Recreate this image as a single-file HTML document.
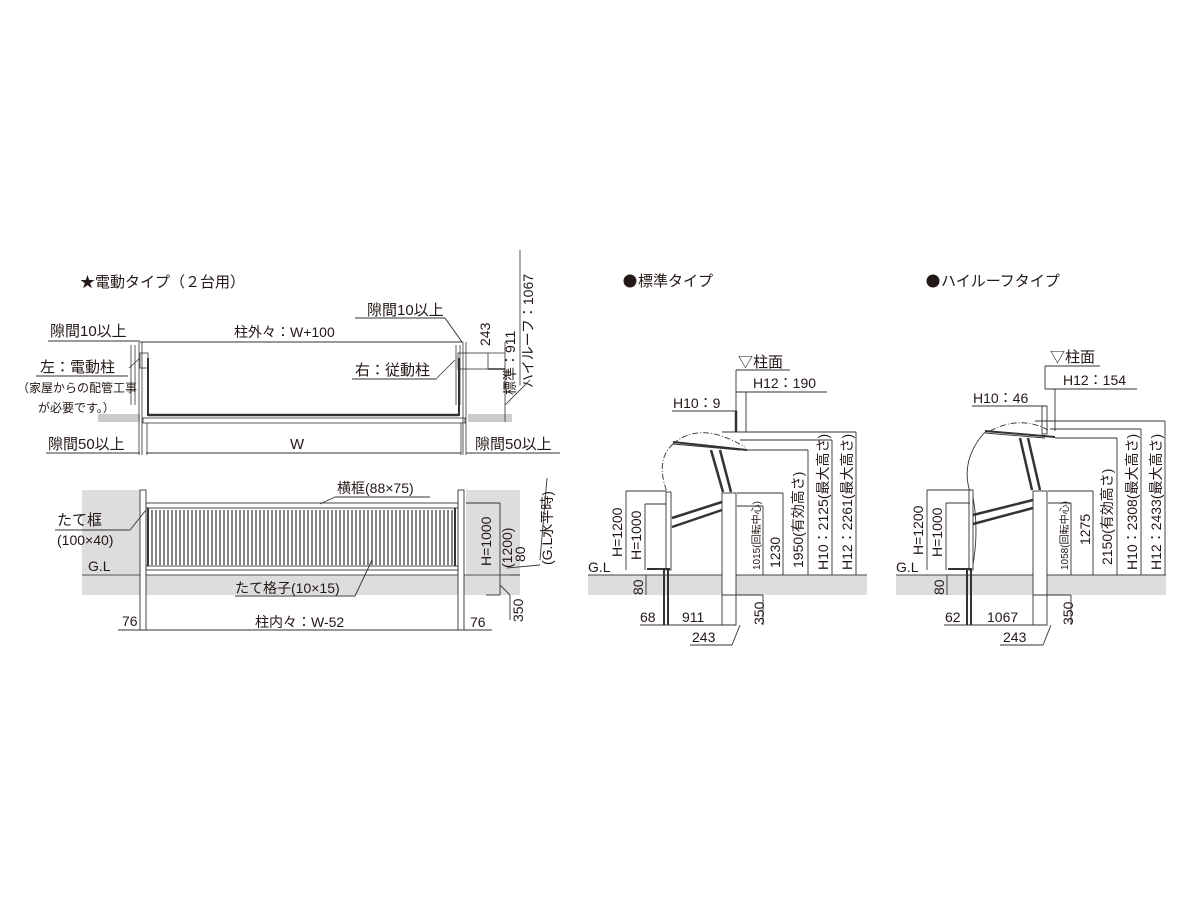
<!DOCTYPE html>
<html><head><meta charset="utf-8"><style>
html,body{margin:0;padding:0;background:#fff}
svg{display:block}
text{font-family:"Liberation Sans","Noto Sans CJK JP",sans-serif;fill:#231815}
</style></head><body>
<svg width="1200" height="900" viewBox="0 0 1200 900" xmlns="http://www.w3.org/2000/svg">
<g font-size="14">
<!-- ===== LEFT PLAN ===== -->
<text x="80" y="287" font-size="15">★電動タイプ（２台用）</text>
<rect x="98" y="414" width="42" height="8" fill="#ccc"/>
<rect x="468" y="414" width="44" height="8" fill="#ccc"/>
<text x="50" y="336" font-size="15">隙間10以上</text>
<line x1="48" y1="341" x2="140" y2="341" stroke="#333"/>
<text x="234" y="337">柱外々：W+100</text>
<line x1="140" y1="342" x2="463" y2="342" stroke="#333"/>
<text x="367" y="315" font-size="15">隙間10以上</text>
<line x1="355" y1="318" x2="445" y2="318" stroke="#333"/>
<line x1="445" y1="318" x2="462" y2="342" stroke="#333"/>
<g stroke="#333" fill="none" stroke-width="0.8">
<line x1="131" y1="345" x2="131" y2="405"/><line x1="135" y1="345" x2="135" y2="405"/>
<line x1="139" y1="342" x2="139" y2="455"/><line x1="142" y1="342" x2="142" y2="455"/>
<line x1="456" y1="345" x2="456" y2="405"/><line x1="460" y1="345" x2="460" y2="405"/>
<line x1="463" y1="342" x2="463" y2="455"/><line x1="466" y1="342" x2="466" y2="455"/>
<rect x="140" y="353" width="8" height="15"/>
<rect x="458" y="353" width="30" height="16"/>
<line x1="148" y1="358" x2="148" y2="416" stroke-width="2"/>
<line x1="459" y1="358" x2="459" y2="416" stroke-width="2"/>
<line x1="148" y1="415" x2="459" y2="415" stroke-width="2.5"/>
<rect x="143" y="418" width="322" height="5"/>
<line x1="147" y1="423" x2="147" y2="455"/><line x1="461" y1="423" x2="461" y2="455"/>
<line x1="488" y1="353" x2="505" y2="353"/><line x1="488" y1="369" x2="505" y2="369" stroke-width="1.5"/>
<line x1="505" y1="342" x2="505" y2="422"/>
<line x1="505" y1="405" x2="530" y2="380"/>
<line x1="520" y1="250" x2="520" y2="385"/>
<line x1="129" y1="368" x2="140" y2="358"/>
<line x1="437" y1="378" x2="455" y2="360"/>
</g>
<text transform="translate(490,346) rotate(-90)">243</text>
<text transform="translate(515,395) rotate(-90)">標準：911</text>
<text transform="translate(533,388) rotate(-90)">ハイルーフ：1067</text>
<text x="40" y="372" font-size="15">左：電動柱</text>
<line x1="36" y1="376" x2="128" y2="376" stroke="#333"/>
<text x="17" y="392" font-size="12">（家屋からの配管工事</text>
<text x="38" y="412" font-size="12">が必要です。）</text>
<text x="355" y="375" font-size="15">右：従動柱</text>
<line x1="352" y1="379" x2="437" y2="379" stroke="#333"/>
<text x="48" y="449" font-size="15">隙間50以上</text>
<line x1="46" y1="453" x2="140" y2="453" stroke="#333"/>
<text x="290" y="449" font-size="15">W</text>
<line x1="146" y1="453" x2="461" y2="453" stroke="#333"/>
<text x="475" y="449" font-size="15">隙間50以上</text>
<line x1="466" y1="453" x2="560" y2="453" stroke="#333"/>

<!-- ===== LEFT ELEVATION ===== -->
<rect x="82" y="490" width="58" height="85" fill="#ddd"/>
<rect x="466" y="490" width="54" height="85" fill="#ddd"/>
<rect x="82" y="575" width="438" height="20" fill="#ddd"/>
<line x1="82" y1="575" x2="520" y2="575" stroke="#555"/>
<g stroke="#333" fill="none" stroke-width="0.9">
<rect x="140" y="490" width="6" height="140" fill="#fff"/>
<rect x="458" y="490" width="6" height="140" fill="#fff"/>
<rect x="146" y="503" width="312" height="5"/>
<rect x="146" y="566" width="312" height="4"/>
<line x1="148" y1="508" x2="148" y2="566" stroke-width="2"/>
<line x1="455" y1="508" x2="455" y2="566" stroke-width="2"/>
<line x1="140" y1="630" x2="464" y2="630"/>
<line x1="118" y1="630" x2="140" y2="630"/><line x1="464" y1="630" x2="492" y2="630"/>
<line x1="466" y1="503" x2="500" y2="503"/>
<line x1="500" y1="503" x2="500" y2="595"/>
<line x1="486" y1="595" x2="500" y2="595"/>
<line x1="510" y1="575" x2="520" y2="575"/>
<line x1="547" y1="478" x2="540" y2="560"/>
<line x1="507" y1="568" x2="540" y2="565"/>
<line x1="500" y1="585" x2="510" y2="595"/><line x1="510" y1="595" x2="510" y2="620"/>
<line x1="55" y1="530" x2="130" y2="530"/><line x1="130" y1="530" x2="146" y2="510"/>
<line x1="335" y1="497" x2="430" y2="497"/><line x1="335" y1="497" x2="320" y2="504"/>
<line x1="235" y1="596" x2="355" y2="596"/><line x1="355" y1="596" x2="372" y2="560"/>
</g>
<g stroke="#333" stroke-width="1.2">
<path d="M152 510V565M156 510V565M160 510V565M164 510V565M168 510V565M172 510V565M176 510V565M180 510V565M184 510V565M188 510V565M192 510V565M196 510V565M200 510V565M204 510V565M208 510V565M212 510V565M216 510V565M220 510V565M224 510V565M228 510V565M232 510V565M236 510V565M240 510V565M244 510V565M248 510V565M252 510V565M256 510V565M260 510V565M264 510V565M268 510V565M272 510V565M276 510V565M280 510V565M284 510V565M288 510V565M292 510V565M296 510V565M300 510V565M304 510V565M308 510V565M312 510V565M316 510V565M320 510V565M324 510V565M328 510V565M332 510V565M336 510V565M340 510V565M344 510V565M348 510V565M352 510V565M356 510V565M360 510V565M364 510V565M368 510V565M372 510V565M376 510V565M380 510V565M384 510V565M388 510V565M392 510V565M396 510V565M400 510V565M404 510V565M408 510V565M412 510V565M416 510V565M420 510V565M424 510V565M428 510V565M432 510V565M436 510V565M440 510V565M444 510V565M448 510V565M452 510V565"/>
</g>
<text x="337" y="493">横框(88×75)</text>
<text x="57" y="525" font-size="15">たて框</text>
<text x="57" y="545">(100×40)</text>
<text x="88" y="571">G.L</text>
<text x="235" y="593">たて格子(10×15)</text>
<text x="122" y="626">76</text>
<text x="255" y="627">柱内々：W-52</text>
<text x="470" y="627">76</text>
<text transform="translate(491,566) rotate(-90)">H=1000</text>
<text transform="translate(512,568) rotate(-90)">(1200)</text>
<text transform="translate(525,562) rotate(-90)">80</text>
<text transform="translate(552,565) rotate(-90)">(G.L水平時)</text>
<text transform="translate(523,622) rotate(-90)">350</text>

<!-- ===== MIDDLE ===== -->
<circle cx="630" cy="281" r="6.5" fill="#231815"/>
<text x="638" y="286" font-size="15">標準タイプ</text>
<rect x="588" y="575" width="279" height="20" fill="#ddd"/>
<line x1="588" y1="575" x2="867" y2="575" stroke="#444"/>
<g stroke="#333" fill="none" stroke-width="0.9">
<line x1="736" y1="370" x2="790" y2="370"/>
<line x1="736" y1="370" x2="736" y2="432"/>
<line x1="736" y1="392" x2="827" y2="392"/>
<line x1="746" y1="392" x2="746" y2="432"/>
<line x1="672" y1="411" x2="737" y2="411"/>
<line x1="736" y1="411" x2="736" y2="432" stroke-width="2.5"/>
<line x1="722" y1="432" x2="856" y2="432"/>
<line x1="740" y1="440" x2="832" y2="440"/>
<line x1="746" y1="450" x2="808" y2="450"/>
<line x1="737" y1="493" x2="783" y2="493"/>
<line x1="737" y1="506" x2="763" y2="506"/>
<line x1="856" y1="432" x2="856" y2="575"/>
<line x1="832" y1="440" x2="832" y2="575"/>
<line x1="808" y1="450" x2="808" y2="575"/>
<line x1="783" y1="493" x2="783" y2="575"/>
<line x1="763" y1="506" x2="763" y2="575"/>
<rect x="722" y="493" width="14" height="132" fill="#fff"/>
<line x1="722" y1="595" x2="763" y2="595"/>
<line x1="763" y1="595" x2="763" y2="625"/>
<line x1="673" y1="442" x2="747" y2="450" stroke-width="2"/>
<line x1="673" y1="444" x2="740" y2="450"/>
<line x1="711" y1="450" x2="723" y2="492" stroke-width="2.5"/>
<line x1="720" y1="450" x2="731" y2="492" stroke-width="2.5"/>
<path d="M673 444 Q700 420 745 447" stroke-dasharray="6 2 1 2"/>
<path d="M673 444 Q655 460 667 492" stroke-dasharray="6 2 1 2"/>
<rect x="666" y="492" width="5" height="78" fill="#fff"/>
<line x1="664" y1="570" x2="664" y2="625" stroke-width="2"/><line x1="668" y1="570" x2="668" y2="625" stroke-width="2"/>
<line x1="672" y1="518" x2="722" y2="502" stroke-width="2.5"/>
<line x1="672" y1="527" x2="722" y2="510" stroke-width="2.5"/>
<line x1="647" y1="569" x2="670" y2="569" stroke-width="2"/>
<line x1="626" y1="491" x2="666" y2="491"/><line x1="626" y1="491" x2="626" y2="570"/>
<line x1="645" y1="504" x2="666" y2="504"/><line x1="645" y1="504" x2="645" y2="570"/>
<line x1="646" y1="575" x2="646" y2="595"/>
<line x1="640" y1="625" x2="736" y2="625"/>
<line x1="690" y1="645" x2="732" y2="645"/><line x1="732" y1="645" x2="740" y2="625"/>
</g>
<text x="738" y="367" font-size="15">▽柱面</text>
<text x="753" y="388">H12：190</text>
<text x="673" y="408">H10：9</text>
<text x="588" y="572">G.L</text>
<text transform="translate(622,557) rotate(-90)">H=1200</text>
<text transform="translate(641,560) rotate(-90)">H=1000</text>
<text transform="translate(643,595) rotate(-90)">80</text>
<text x="640" y="622">68</text>
<text x="682" y="622">911</text>
<text x="692" y="642">243</text>
<text transform="translate(764,625) rotate(-90)">350</text>
<text font-size="10" transform="translate(760,570) rotate(-90)">1015(回転中心)</text>
<text transform="translate(780,568) rotate(-90)">1230</text>
<text transform="translate(803,568) rotate(-90)">1950(有効高さ)</text>
<text transform="translate(828,570) rotate(-90)">H10：2125(最大高さ)</text>
<text transform="translate(852,570) rotate(-90)">H12：2261(最大高さ)</text>

<!-- ===== RIGHT ===== -->
<circle cx="933" cy="281" r="6.5" fill="#231815"/>
<text x="941" y="286" font-size="15">ハイルーフタイプ</text>
<rect x="896" y="575" width="270" height="20" fill="#ddd"/>
<line x1="896" y1="575" x2="1166" y2="575" stroke="#444"/>
<g stroke="#333" fill="none" stroke-width="0.9">
<line x1="1045" y1="366" x2="1100" y2="366"/>
<line x1="1045" y1="366" x2="1045" y2="389"/>
<line x1="1045" y1="389" x2="1137" y2="389"/>
<line x1="1055" y1="389" x2="1055" y2="431"/>
<line x1="972" y1="406" x2="1045" y2="406"/>
<rect x="1042" y="406" width="5" height="28"/>
<line x1="1035" y1="421" x2="1165" y2="421"/>
<line x1="1050" y1="429" x2="1141" y2="429"/>
<line x1="1055" y1="438" x2="1117" y2="438"/>
<line x1="1048" y1="491" x2="1093" y2="491"/>
<line x1="1048" y1="503" x2="1071" y2="503"/>
<line x1="1165" y1="421" x2="1165" y2="575"/>
<line x1="1141" y1="429" x2="1141" y2="575"/>
<line x1="1117" y1="438" x2="1117" y2="575"/>
<line x1="1093" y1="491" x2="1093" y2="575"/>
<line x1="1071" y1="503" x2="1071" y2="575"/>
<rect x="1033" y="491" width="14" height="134" fill="#fff"/>
<line x1="1033" y1="595" x2="1071" y2="595"/>
<line x1="1071" y1="595" x2="1071" y2="625"/>
<line x1="985" y1="431" x2="1055" y2="437" stroke-width="2"/>
<line x1="985" y1="433" x2="1045" y2="438"/>
<line x1="1020" y1="438" x2="1032" y2="490" stroke-width="2.5"/>
<line x1="1028" y1="438" x2="1040" y2="490" stroke-width="2.5"/>
<path d="M990 431 Q1020 415 1048 430" stroke-dasharray="6 2 1 2"/>
<path d="M985 432 Q960 460 970 492"/>
<path d="M972 492 Q980 530 972 570"/>
<rect x="969" y="490" width="4" height="80" fill="#fff"/>
<line x1="967" y1="570" x2="967" y2="625" stroke-width="2"/><line x1="971" y1="570" x2="971" y2="625" stroke-width="2"/>
<line x1="973" y1="515" x2="1033" y2="500" stroke-width="2.5"/>
<line x1="973" y1="524" x2="1033" y2="508" stroke-width="2.5"/>
<line x1="948" y1="569" x2="972" y2="569" stroke-width="2"/>
<line x1="927" y1="490" x2="970" y2="490"/><line x1="927" y1="490" x2="927" y2="570"/>
<line x1="946" y1="503" x2="970" y2="503"/><line x1="946" y1="503" x2="946" y2="570"/>
<line x1="947" y1="575" x2="947" y2="595"/>
<line x1="944" y1="625" x2="1047" y2="625"/>
<line x1="1000" y1="645" x2="1043" y2="645"/><line x1="1043" y1="645" x2="1051" y2="625"/>
</g>
<text x="1050" y="362" font-size="15">▽柱面</text>
<text x="1063" y="385">H12：154</text>
<text x="973" y="403">H10：46</text>
<text x="896" y="572">G.L</text>
<text transform="translate(923,555) rotate(-90)">H=1200</text>
<text transform="translate(942,557) rotate(-90)">H=1000</text>
<text transform="translate(944,595) rotate(-90)">80</text>
<text x="945" y="622">62</text>
<text x="987" y="622">1067</text>
<text x="1003" y="642">243</text>
<text transform="translate(1073,625) rotate(-90)">350</text>
<text font-size="10" transform="translate(1068,570) rotate(-90)">1058(回転中心)</text>
<text transform="translate(1090,545) rotate(-90)">1275</text>
<text transform="translate(1112,565) rotate(-90)">2150(有効高さ)</text>
<text transform="translate(1137,570) rotate(-90)">H10：2308(最大高さ)</text>
<text transform="translate(1161,570) rotate(-90)">H12：2433(最大高さ)</text>
</g>
</svg>
</body></html>
